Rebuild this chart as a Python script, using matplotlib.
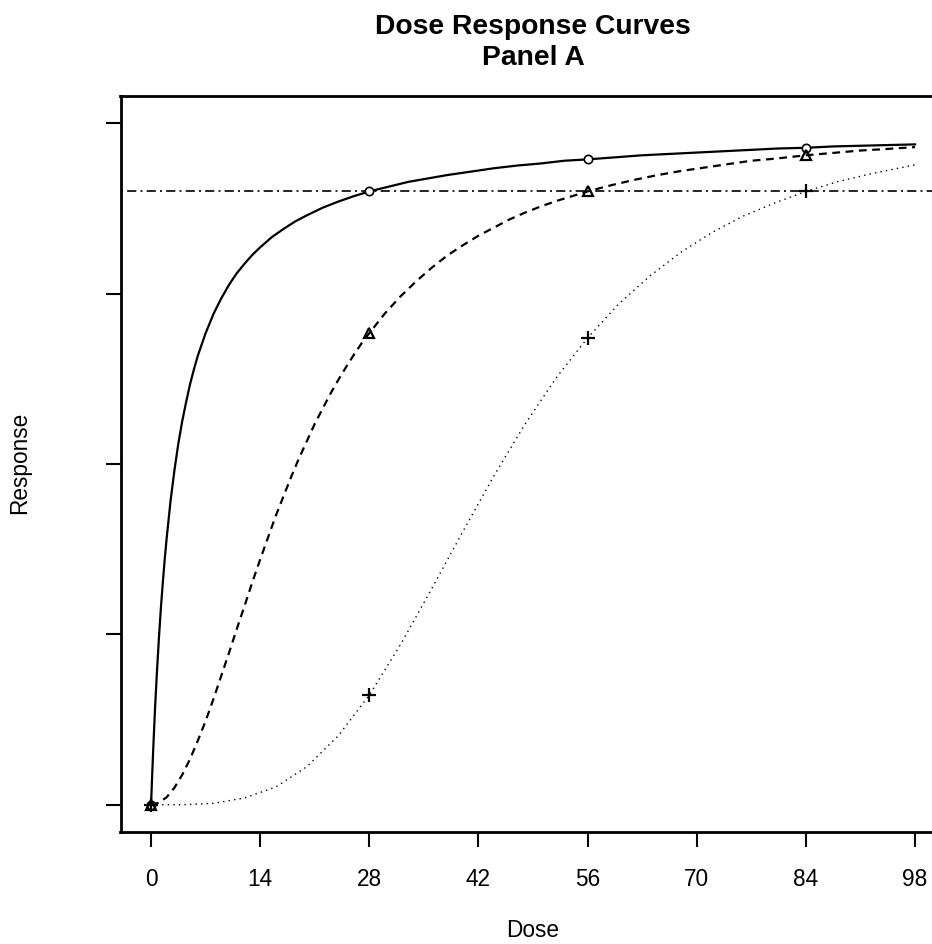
import numpy as np
import matplotlib
matplotlib.use("Agg")
import matplotlib.pyplot as plt

plt.rcParams['font.family'] = ['Liberation Sans', 'DejaVu Sans']

# Curva 1 (continua)
dosis1 = [0, 0.1, 0.25, 0.5, 0.75, 1, 1.25, 1.5, 1.75, 2, 2.5, 3, 3.5, 4, 4.5,
          5, 5.5, 6, 7, 8, 9, 10, 11, 12, 13, 14, 15.5, 17, 18.5, 20, 22, 24,
          26, 28, 30.5, 33, 35.5, 38, 41, 44, 47, 50, 53, 56, 59.5, 63, 66.5,
          70, 73.5, 77, 80.5, 84, 87.5, 91, 94.5, 98]
resp1 = [0.000, 0.031, 0.074, 0.139, 0.194, 0.243, 0.287, 0.325, 0.360, 0.391,
         0.446, 0.491, 0.530, 0.563, 0.591, 0.617, 0.639, 0.659, 0.692, 0.720,
         0.743, 0.763, 0.780, 0.794, 0.807, 0.818, 0.833, 0.845, 0.856, 0.865,
         0.876, 0.885, 0.893, 0.900, 0.907, 0.914, 0.919, 0.924, 0.929, 0.934,
         0.938, 0.941, 0.945, 0.947, 0.950, 0.953, 0.955, 0.957, 0.959, 0.961,
         0.963, 0.964, 0.966, 0.967, 0.968, 0.969]

# Curva 2 (discontinua)
dosis2 = [0, 1, 2, 3, 4, 5, 6, 7, 8, 9, 10, 11, 12, 13, 14, 15, 16, 17, 18, 19,
          20, 21, 22, 23, 24, 25, 26, 27, 28, 30, 32, 34, 36, 38, 40, 42, 44,
          46, 48, 50, 52, 54, 56, 59, 62, 65, 68, 71, 74, 77, 80, 84, 87, 91,
          94, 98]
resp2 = [0.000, 0.003, 0.011, 0.025, 0.044, 0.067, 0.094, 0.123, 0.155, 0.189,
         0.223, 0.258, 0.292, 0.327, 0.360, 0.392, 0.424, 0.453, 0.482, 0.509,
         0.534, 0.559, 0.581, 0.603, 0.623, 0.642, 0.660, 0.677, 0.692, 0.721,
         0.746, 0.768, 0.788, 0.806, 0.821, 0.835, 0.847, 0.859, 0.869, 0.878,
         0.886, 0.893, 0.900, 0.909, 0.917, 0.924, 0.930, 0.935, 0.940, 0.945,
         0.948, 0.953, 0.956, 0.960, 0.962, 0.965]

# Curva 3 (punteada)
dosis3 = [0, 4, 8, 12, 16, 20, 24, 28, 32, 36, 40, 44, 48, 52, 56, 60, 64, 68,
          72, 76, 80, 84, 88, 92, 98]
resp3 = [0.000, 0.000, 0.002, 0.010, 0.026, 0.056, 0.101, 0.161, 0.235, 0.317,
         0.401, 0.483, 0.559, 0.627, 0.685, 0.735, 0.776, 0.811, 0.840, 0.864,
         0.883, 0.900, 0.914, 0.925, 0.939]

# Puntos marcados
dosis_pts = [0, 28, 56, 84]
pts1 = [0.000, 0.900, 0.947, 0.964]
pts2 = [0.000, 0.692, 0.900, 0.953]
pts3 = [0.000, 0.161, 0.685, 0.900]

nivel = 0.9
xticks = [0, 14, 28, 42, 56, 70, 84, 98]
yticks = [0, 0.25, 0.5, 0.75, 1.0]

W, H = 932, 944
fig = plt.figure(figsize=(W/100, H/100), dpi=100)
x0, x1, y0, y1 = 120.5, 945.6, 96, 832
ax = fig.add_axes([x0/W, (H-y1)/H, (x1-x0)/W, (y1-y0)/H])

ax.plot(dosis1, resp1, color='black', lw=1.6, solid_joinstyle='round')
ax.plot(dosis2, resp2, color='black', lw=1.6, dashes=(3.5, 2.5))
ax.plot(dosis3, resp3, color='black', lw=1.0, dashes=(1, 3))
ax.axhline(nivel, color='black', lw=1.2, dashes=(1.2, 2.5, 5.5, 2.5))

ax.plot(dosis_pts, pts1, 'o', mfc='white', mec='black', ms=6, mew=1.2, ls='none')
ax.plot(dosis_pts, pts2, '^', mfc='none', mec='black', ms=7.5, mew=1.6, ls='none')
ax.plot(dosis_pts, pts3, '+', color='black', ms=9.5, mew=1.6, ls='none')

ax.set_xlim(-3.92, 101.92)
ax.set_ylim(-0.04, 1.04)
ax.set_xticks(xticks)
ax.set_yticks(yticks)
ax.set_yticklabels([])
ax.tick_params(direction='out', length=11, width=1.5, labelsize=16.3, pad=15)
for s in ax.spines.values():
    s.set_linewidth(2)

fig.text(20/W, 1 - 463/H, 'Response', rotation=90, ha='center', va='center', fontsize=16.3)
fig.text(533/W, 1 - 937/H, 'Dose', ha='center', va='baseline', fontsize=16.3)
fig.text(533/W, 1 - 34/H, 'Dose Response Curves', ha='center', va='baseline',
         fontsize=20.3, fontweight='bold')
fig.text(533/W, 1 - 65/H, 'Panel A', ha='center', va='baseline',
         fontsize=20.3, fontweight='bold')

plt.savefig('out.png', dpi=100)
